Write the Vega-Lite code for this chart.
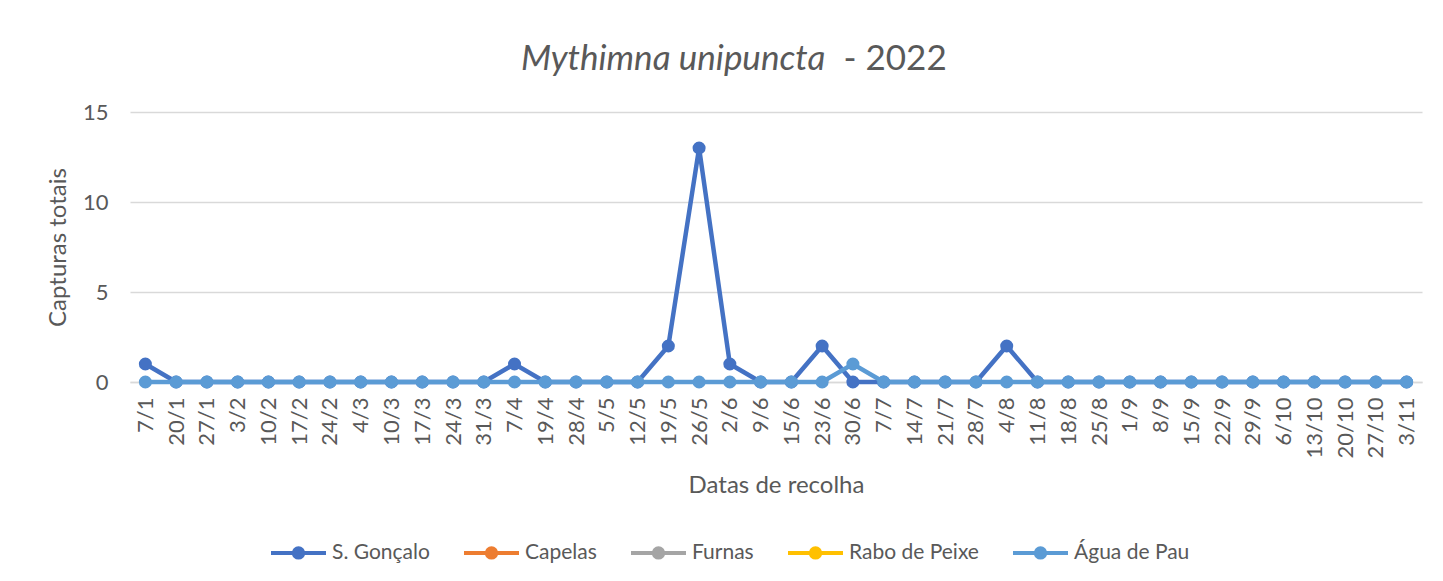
{
  "$schema": "https://vega.github.io/schema/vega-lite/v6.json",
  "autosize": {"type": "none"},
  "padding": {"left": 130, "top": 112, "right": 21, "bottom": 199},
  "width": 1292,
  "height": 270,
  "background": "#ffffff",
  "title": {
    "text": "Mythimna unipuncta",
    "subtitle": "\u200b\u00a0\u00a0\u00a0\u00a0\u00a0\u00a0\u00a0\u00a0\u00a0\u00a0\u00a0\u00a0\u00a0\u00a0\u00a0\u00a0\u00a0\u00a0\u00a0\u00a0\u00a0\u00a0\u00a0\u00a0\u00a0\u00a0\u00a0\u00a0\u00a0\u00a0\u00a0\u00a0\u00a0\u00a0\u00a0\u00a0- 2022",
    "anchor": "start",
    "align": "left",
    "frame": "group",
    "dx": 391,
    "offset": 24,
    "font": "Lato",
    "fontSize": 35,
    "fontStyle": "italic",
    "fontWeight": "normal",
    "color": "#595959",
    "subtitleFont": "Lato",
    "subtitleFontSize": 35,
    "subtitleFontStyle": "normal",
    "subtitleColor": "#595959",
    "subtitlePadding": -35
  },
  "data": {
    "values": [
      {"d": "7/1", "s": "S. Gonçalo", "v": 1},
      {"d": "20/1", "s": "S. Gonçalo", "v": 0},
      {"d": "27/1", "s": "S. Gonçalo", "v": 0},
      {"d": "3/2", "s": "S. Gonçalo", "v": 0},
      {"d": "10/2", "s": "S. Gonçalo", "v": 0},
      {"d": "17/2", "s": "S. Gonçalo", "v": 0},
      {"d": "24/2", "s": "S. Gonçalo", "v": 0},
      {"d": "4/3", "s": "S. Gonçalo", "v": 0},
      {"d": "10/3", "s": "S. Gonçalo", "v": 0},
      {"d": "17/3", "s": "S. Gonçalo", "v": 0},
      {"d": "24/3", "s": "S. Gonçalo", "v": 0},
      {"d": "31/3", "s": "S. Gonçalo", "v": 0},
      {"d": "7/4", "s": "S. Gonçalo", "v": 1},
      {"d": "19/4", "s": "S. Gonçalo", "v": 0},
      {"d": "28/4", "s": "S. Gonçalo", "v": 0},
      {"d": "5/5", "s": "S. Gonçalo", "v": 0},
      {"d": "12/5", "s": "S. Gonçalo", "v": 0},
      {"d": "19/5", "s": "S. Gonçalo", "v": 2},
      {"d": "26/5", "s": "S. Gonçalo", "v": 13},
      {"d": "2/6", "s": "S. Gonçalo", "v": 1},
      {"d": "9/6", "s": "S. Gonçalo", "v": 0},
      {"d": "15/6", "s": "S. Gonçalo", "v": 0},
      {"d": "23/6", "s": "S. Gonçalo", "v": 2},
      {"d": "30/6", "s": "S. Gonçalo", "v": 0},
      {"d": "7/7", "s": "S. Gonçalo", "v": 0},
      {"d": "14/7", "s": "S. Gonçalo", "v": 0},
      {"d": "21/7", "s": "S. Gonçalo", "v": 0},
      {"d": "28/7", "s": "S. Gonçalo", "v": 0},
      {"d": "4/8", "s": "S. Gonçalo", "v": 2},
      {"d": "11/8", "s": "S. Gonçalo", "v": 0},
      {"d": "18/8", "s": "S. Gonçalo", "v": 0},
      {"d": "25/8", "s": "S. Gonçalo", "v": 0},
      {"d": "1/9", "s": "S. Gonçalo", "v": 0},
      {"d": "8/9", "s": "S. Gonçalo", "v": 0},
      {"d": "15/9", "s": "S. Gonçalo", "v": 0},
      {"d": "22/9", "s": "S. Gonçalo", "v": 0},
      {"d": "29/9", "s": "S. Gonçalo", "v": 0},
      {"d": "6/10", "s": "S. Gonçalo", "v": 0},
      {"d": "13/10", "s": "S. Gonçalo", "v": 0},
      {"d": "20/10", "s": "S. Gonçalo", "v": 0},
      {"d": "27/10", "s": "S. Gonçalo", "v": 0},
      {"d": "3/11", "s": "S. Gonçalo", "v": 0},
      {"d": "7/1", "s": "Água de Pau", "v": 0},
      {"d": "20/1", "s": "Água de Pau", "v": 0},
      {"d": "27/1", "s": "Água de Pau", "v": 0},
      {"d": "3/2", "s": "Água de Pau", "v": 0},
      {"d": "10/2", "s": "Água de Pau", "v": 0},
      {"d": "17/2", "s": "Água de Pau", "v": 0},
      {"d": "24/2", "s": "Água de Pau", "v": 0},
      {"d": "4/3", "s": "Água de Pau", "v": 0},
      {"d": "10/3", "s": "Água de Pau", "v": 0},
      {"d": "17/3", "s": "Água de Pau", "v": 0},
      {"d": "24/3", "s": "Água de Pau", "v": 0},
      {"d": "31/3", "s": "Água de Pau", "v": 0},
      {"d": "7/4", "s": "Água de Pau", "v": 0},
      {"d": "19/4", "s": "Água de Pau", "v": 0},
      {"d": "28/4", "s": "Água de Pau", "v": 0},
      {"d": "5/5", "s": "Água de Pau", "v": 0},
      {"d": "12/5", "s": "Água de Pau", "v": 0},
      {"d": "19/5", "s": "Água de Pau", "v": 0},
      {"d": "26/5", "s": "Água de Pau", "v": 0},
      {"d": "2/6", "s": "Água de Pau", "v": 0},
      {"d": "9/6", "s": "Água de Pau", "v": 0},
      {"d": "15/6", "s": "Água de Pau", "v": 0},
      {"d": "23/6", "s": "Água de Pau", "v": 0},
      {"d": "30/6", "s": "Água de Pau", "v": 1},
      {"d": "7/7", "s": "Água de Pau", "v": 0},
      {"d": "14/7", "s": "Água de Pau", "v": 0},
      {"d": "21/7", "s": "Água de Pau", "v": 0},
      {"d": "28/7", "s": "Água de Pau", "v": 0},
      {"d": "4/8", "s": "Água de Pau", "v": 0},
      {"d": "11/8", "s": "Água de Pau", "v": 0},
      {"d": "18/8", "s": "Água de Pau", "v": 0},
      {"d": "25/8", "s": "Água de Pau", "v": 0},
      {"d": "1/9", "s": "Água de Pau", "v": 0},
      {"d": "8/9", "s": "Água de Pau", "v": 0},
      {"d": "15/9", "s": "Água de Pau", "v": 0},
      {"d": "22/9", "s": "Água de Pau", "v": 0},
      {"d": "29/9", "s": "Água de Pau", "v": 0},
      {"d": "6/10", "s": "Água de Pau", "v": 0},
      {"d": "13/10", "s": "Água de Pau", "v": 0},
      {"d": "20/10", "s": "Água de Pau", "v": 0},
      {"d": "27/10", "s": "Água de Pau", "v": 0},
      {"d": "3/11", "s": "Água de Pau", "v": 0}
    ]
  },
  "encoding": {
    "x": {
      "field": "d",
      "type": "ordinal",
      "sort": null,
      "scale": {"type": "point", "padding": 0.5},
      "axis": {
        "title": "Datas de recolha",
        "labelAngle": -90,
        "labelFont": "Lato",
        "labelFontSize": 22,
        "labelColor": "#595959",
        "labelPadding": 15,
        "labelOverlap": false,
        "ticks": false,
        "domainColor": "#D9D9D9",
        "domainWidth": 1.5,
        "titleFont": "Lato",
        "titleFontSize": 24,
        "titleFontWeight": "normal",
        "titleColor": "#595959",
        "titlePadding": 16
      }
    },
    "y": {
      "field": "v",
      "type": "quantitative",
      "scale": {"domain": [0, 15], "nice": false},
      "axis": {
        "title": "Capturas totais",
        "values": [0, 5, 10, 15],
        "labelFont": "Lato",
        "labelFontSize": 22,
        "labelColor": "#595959",
        "labelPadding": 22,
        "ticks": false,
        "domain": false,
        "gridColor": "#D9D9D9",
        "gridWidth": 1.5,
        "titleFont": "Lato",
        "titleFontSize": 24,
        "titleFontWeight": "normal",
        "titleColor": "#595959",
        "titlePadding": 12
      }
    },
    "color": {
      "field": "s",
      "type": "nominal",
      "scale": {
        "domain": ["S. Gonçalo", "Capelas", "Furnas", "Rabo de Peixe", "Água de Pau"],
        "range": ["#4472C4", "#ED7D31", "#A5A5A5", "#FFC000", "#5B9BD5"]
      },
      "legend": {
        "title": null,
        "orient": "none",
        "legendX": 139,
        "legendY": 411,
        "direction": "horizontal",
        "symbolType": "M-1,0H1M-0.17,0A0.17,0.17,0,1,1,0.17,0A0.17,0.17,0,1,1,-0.17,0Z",
        "symbolSize": 3025,
        "symbolStrokeWidth": 4,
        "labelFont": "Lato",
        "labelFontSize": 21,
        "labelColor": "#595959",
        "labelOffset": 4,
        "columnPadding": 26,
        "encode": {
          "symbols": {
            "update": {
              "fill": {"scale": "color", "field": "value"},
              "stroke": {"scale": "color", "field": "value"},
              "fillOpacity": {"value": 1},
              "opacity": {"value": 1}
            }
          }
        }
      }
    }
  },
  "layer": [
    {
      "transform": [{"filter": "datum.s === 'S. Gonçalo'"}],
      "mark": {"type": "line", "strokeWidth": 4.5, "point": {"filled": true, "size": 170, "opacity": 1}}
    },
    {
      "transform": [{"filter": "datum.s === 'Água de Pau'"}],
      "mark": {"type": "line", "strokeWidth": 4.5, "point": {"filled": true, "size": 170, "opacity": 1}}
    }
  ],
  "config": {
    "view": {"stroke": null},
    "font": "Lato"
  }
}
